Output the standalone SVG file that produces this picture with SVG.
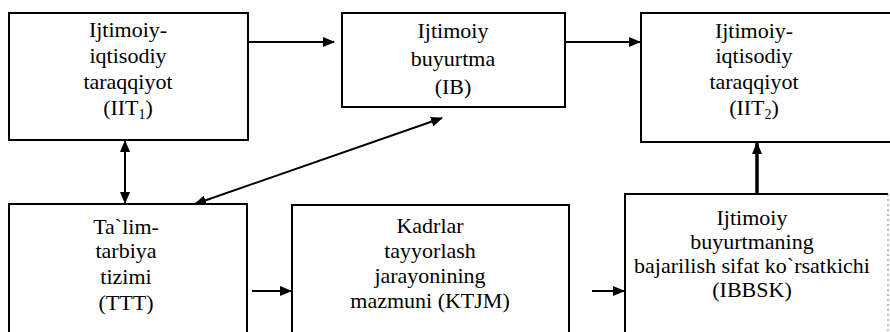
<svg xmlns="http://www.w3.org/2000/svg" width="890" height="332" viewBox="0 0 890 332">
<defs>
<marker id="ah" viewBox="0 0 12 10" refX="11" refY="5" markerWidth="12" markerHeight="10" markerUnits="userSpaceOnUse" orient="auto-start-reverse">
<path d="M0,0 L12,5 L0,10 Z" fill="#000"/>
</marker>
</defs>
<rect width="890" height="332" fill="#fff"/>
<g id="node-iit1">
<rect x="9" y="13" width="239" height="127" fill="#fff" stroke="#000" stroke-width="2"/>
<text font-family="Times New Roman" font-size="22" text-anchor="middle" x="128" y="37">Ijtimoiy-</text>
<text font-family="Times New Roman" font-size="22" text-anchor="middle" x="128" y="63">iqtisodiy</text>
<text font-family="Times New Roman" font-size="22" text-anchor="middle" x="128" y="89">taraqqiyot</text>
<text font-family="Times New Roman" font-size="22" text-anchor="middle" x="128" y="115">(IIT<tspan font-size="14" dy="4">1</tspan><tspan dy="-4">)</tspan></text>
</g>
<g id="node-ib">
<rect x="342" y="13" width="223" height="94" fill="#fff" stroke="#000" stroke-width="2"/>
<text font-family="Times New Roman" font-size="22" text-anchor="middle" x="453" y="38">Ijtimoiy</text>
<text font-family="Times New Roman" font-size="22" text-anchor="middle" x="453" y="66">buyurtma</text>
<text font-family="Times New Roman" font-size="22" text-anchor="middle" x="453" y="94">(IB)</text>
</g>
<g id="node-iit2">
<rect x="641" y="13" width="260" height="129" fill="#fff" stroke="#000" stroke-width="2"/>
<text font-family="Times New Roman" font-size="22" text-anchor="middle" x="754" y="38">Ijtimoiy-</text>
<text font-family="Times New Roman" font-size="22" text-anchor="middle" x="754" y="63">iqtisodiy</text>
<text font-family="Times New Roman" font-size="22" text-anchor="middle" x="754" y="89">taraqqiyot</text>
<text font-family="Times New Roman" font-size="22" text-anchor="middle" x="754" y="115">(IIT<tspan font-size="14" dy="4">2</tspan><tspan dy="-4">)</tspan></text>
</g>
<g id="node-ttt">
<rect x="9" y="204" width="238" height="140" fill="#fff" stroke="#000" stroke-width="2"/>
<text font-family="Times New Roman" font-size="22" text-anchor="middle" x="126" y="234">Ta`lim-</text>
<text font-family="Times New Roman" font-size="22" text-anchor="middle" x="126" y="258">tarbiya</text>
<text font-family="Times New Roman" font-size="22" text-anchor="middle" x="126" y="284">tizimi</text>
<text font-family="Times New Roman" font-size="22" text-anchor="middle" x="126" y="310">(TTT)</text>
</g>
<g id="node-ktjm">
<rect x="292" y="205" width="277" height="140" fill="#fff" stroke="#000" stroke-width="2"/>
<text font-family="Times New Roman" font-size="22" text-anchor="middle" x="430" y="233">Kadrlar</text>
<text font-family="Times New Roman" font-size="22" text-anchor="middle" x="430" y="258">tayyorlash</text>
<text font-family="Times New Roman" font-size="22" text-anchor="middle" x="430" y="283">jarayonining</text>
<text font-family="Times New Roman" font-size="22" text-anchor="middle" x="430" y="308">mazmuni (KTJM)</text>
</g>
<g id="node-ibbsk">
<path d="M888,194 L625,194 L625,345" fill="#fff" stroke="#000" stroke-width="2"/>
<line x1="888" y1="194" x2="888" y2="332" stroke="#777" stroke-width="1" stroke-dasharray="2,3"/>
<text font-family="Times New Roman" font-size="22" text-anchor="middle" x="752" y="225">Ijtimoiy</text>
<text font-family="Times New Roman" font-size="22" text-anchor="middle" x="752" y="249">buyurtmaning</text>
<text font-family="Times New Roman" font-size="22" text-anchor="middle" x="752" y="273">bajarilish sifat ko`rsatkichi</text>
<text font-family="Times New Roman" font-size="22" text-anchor="middle" x="752" y="297">(IBBSK)</text>
</g>
<g id="connectors" fill="none" stroke="#000" stroke-width="2">
<line x1="248" y1="42" x2="334" y2="42" marker-end="url(#ah)"/>
<line x1="565" y1="42" x2="640" y2="42" marker-end="url(#ah)"/>
<line x1="125" y1="141" x2="125" y2="203" marker-start="url(#ah)" marker-end="url(#ah)"/>
<line x1="195" y1="204" x2="442" y2="118" marker-start="url(#ah)" marker-end="url(#ah)"/>
<line x1="252" y1="291" x2="291" y2="291" marker-end="url(#ah)"/>
<line x1="592" y1="291" x2="624" y2="291" marker-end="url(#ah)"/>
<line x1="757" y1="193" x2="757" y2="143" stroke-width="3.5" marker-end="url(#ah)"/>
</g>
</svg>
